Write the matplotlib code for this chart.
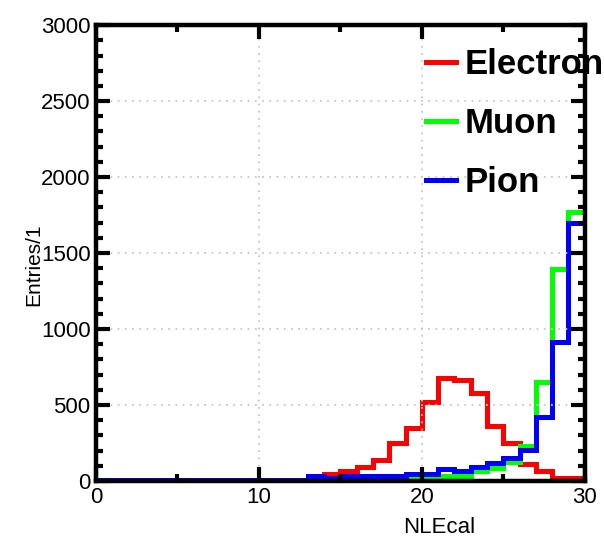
# %% NLEcal distributions for electron, muon and pion samples
import numpy as np
import matplotlib.pyplot as plt
from matplotlib.ticker import MultipleLocator

plt.rcParams["font.family"] = ["Liberation Sans", "DejaVu Sans"]

# %% Data (entries per unit bin, 0..30)
bin_edges = np.arange(0, 31)
electron = [0, 0, 0, 0, 0, 0, 0, 0, 0, 0, 0, 0, 0, 0,
            45, 67, 93, 140, 247, 347, 522, 680, 662, 580,
            360, 253, 113, 67, 22, 22]
muon = [0, 0, 0, 0, 0, 0, 0, 0, 0, 0, 0, 0, 0, 5,
        0, 10, 10, 10, 10, 20, 20, 33, 33, 67,
        89, 122, 229, 649, 1393, 1767]
pion = [5, 5, 5, 5, 5, 5, 5, 5, 5, 5, 5, 5, 5, 33,
        20, 33, 33, 33, 33, 49, 49, 78, 67, 93,
        116, 153, 207, 420, 915, 1700]
labels = ["Electron", "Muon", "Pion"]
colors = ["#ff0000", "#00ff00", "#0000ff"]

# %% Plot
plt.close("all")
fig = plt.figure(figsize=(6.04, 5.46), dpi=100)
ax = fig.add_axes([0.159, 0.119, 0.809, 0.835])

for vals, lab, col in zip([electron, muon, pion], labels, colors):
    ax.stairs(vals, bin_edges, color=col, linewidth=3.6, label=lab)

ax.set_xlim(0, 30)
ax.set_ylim(0, 3000)
ax.xaxis.set_major_locator(MultipleLocator(10))
ax.xaxis.set_minor_locator(MultipleLocator(5))
ax.yaxis.set_major_locator(MultipleLocator(500))
ax.yaxis.set_minor_locator(MultipleLocator(100))
ax.grid(True, which="major", color="#c8c8c8", linestyle=(0, (1, 3)), linewidth=1.3)

for sp in ax.spines.values():
    sp.set_linewidth(3.2)
ax.tick_params(which="both", direction="in", top=True, right=True,
               width=3, labelsize=16, pad=4)
ax.tick_params(which="major", length=10)
ax.tick_params(which="minor", length=5)

ax.set_xlabel("NLEcal", fontsize=16, labelpad=7, x=0.703)
ax.set_ylabel("Entries/1", fontsize=15, labelpad=-2, y=0.474)

leg = ax.legend(loc="upper left", bbox_to_anchor=(0.706, 0.912),
                bbox_transform=fig.transFigure, frameon=False,
                prop={"weight": "bold", "size": 25}, handlelength=0.85,
                handletextpad=0.25, labelspacing=0.75, borderpad=0,
                borderaxespad=0)
for line in leg.get_lines():
    line.set_linewidth(3.6)

fig.savefig("out.png", dpi=100)
